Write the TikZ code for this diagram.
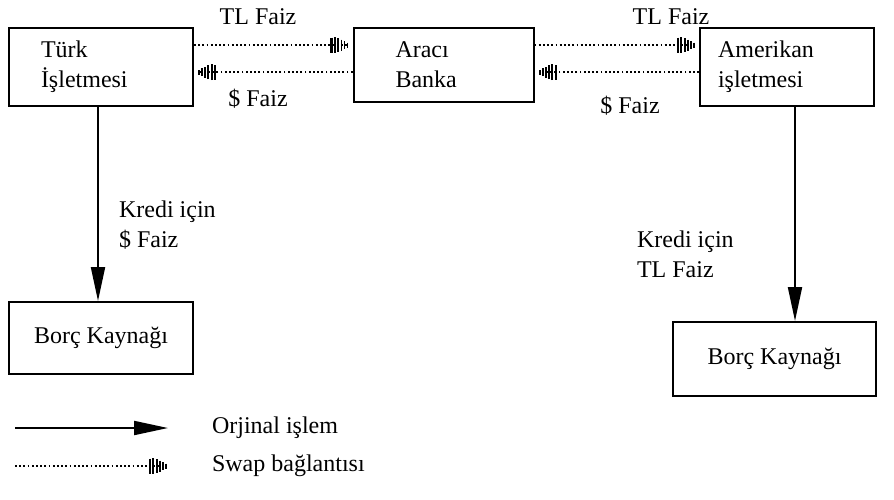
\documentclass[tikz,border=0pt]{standalone}
\usepackage{fontspec}
\setmainfont{Liberation Serif}
\usetikzlibrary{arrows.meta}
\usetikzlibrary{positioning}

\begin{document}
\begin{tikzpicture}[x=0.5pt,y=-0.5pt,
		font=\fontsize{12}{15}\selectfont,
		kutu/.style={draw,line width=1pt,minimum height=39pt,align=left},
		altkutu/.style={draw,line width=1pt,minimum height=36pt,align=center},
		orjinal/.style={line width=1pt,-{Triangle[length=17pt,width=7pt]}},
		swap/.style={dash pattern=on .9pt off 1.2pt,line width=.9pt,shorten >=1.5pt,
			-{Bar[width=7.5pt,sep=.6pt,line width=1.1pt]Bar[width=8pt,sep=.6pt,line width=1.1pt]Bar[width=7pt,sep=.6pt,line width=1.1pt]Bar[width=5.5pt,sep=.6pt]Bar[width=4pt,sep=.6pt]Bar[width=2.5pt,sep=.6pt]}}]
		\useasboundingbox (0,0) rectangle (894,499);
		% kutular
		\node[kutu,text width=60pt,inner xsep=16pt] (turk) at (101,67) {Türk\\İşletmesi};
		\node[kutu,text width=70pt,inner xsep=10pt,minimum height=37pt] (araci) at (443.5,65) {\hspace{11pt}Aracı\\\hspace{11pt}Banka};
		\node[kutu,text width=69pt,inner xsep=9pt] (amerikan) at (787,67) {Amerikan\\işletmesi};
		\node[altkutu,minimum width=92pt] (borc1) at (101,338) {Borç Kaynağı};
		\node[altkutu,minimum width=101.5pt,minimum height=37pt] (borc2) at (774.5,359) {Borç Kaynağı};
		% swap baglantilari
		\draw[swap] (turk.east |- 0,45) -- (araci.west |- 0,45);
		\draw[swap] (araci.west |- 0,72) -- (turk.east |- 0,72);
		\draw[swap] (araci.east |- 0,45) -- (amerikan.west |- 0,45);
		\draw[swap] (amerikan.west |- 0,72) -- (araci.east |- 0,72);
		\node (tl1) at (258,17) {TL Faiz};
		\node (dolar1) at (258,99) {\$ Faiz};
		\node (tl2) at (671,17) {TL Faiz};
		\node (dolar2) at (630,106) {\$ Faiz};
		% orjinal islemler
		\draw[orjinal] (turk.south -| 98,0) -- (borc1.north -| 98,0);
		\draw[orjinal] (amerikan.south -| 795,0) -- (borc2.north -| 795,0);
		\node[anchor=west,align=left] (kredi1) at (112,225) {Kredi için\\\$ Faiz};
		\node[anchor=west,align=left] (kredi2) at (630,254) {Kredi için\\TL Faiz};
		% lejant
		\coordinate (l1a) at (15,428);
		\coordinate (l1b) at (168,428);
		\coordinate (l2a) at (15,466);
		\coordinate (l2b) at (168,466);
		\draw[orjinal] (l1a) -- (l1b);
		\draw[swap,shorten >=0pt] (l2a) -- (l2b);
		\node[anchor=west] (lej1) at (205,428) {Orjinal işlem};
		\node[anchor=west] (lej2) at (205,466) {Swap bağlantısı};
\end{tikzpicture}
\end{document}
